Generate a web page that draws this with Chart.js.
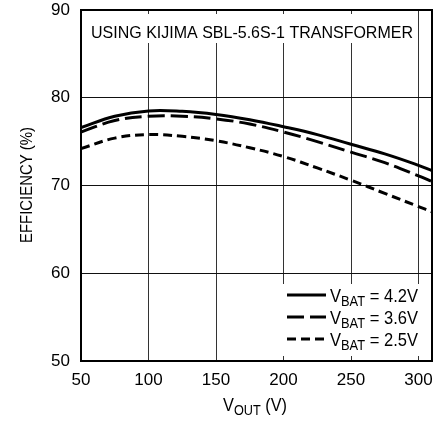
<!DOCTYPE html>
<html>
<head>
<meta charset="utf-8">
<script src="https://cdn.jsdelivr.net/npm/chart.js@4.4.1/dist/chart.umd.min.js"></script>
<style>
html,body{margin:0;padding:0;background:#fff;}
#wrap{width:447px;height:421px;position:relative;}
</style>
</head>
<body>
<div id="wrap"><canvas id="c" width="447" height="421"></canvas></div>
<script>
const FONT = '"Liberation Sans", Arial, sans-serif';

const vout = [50, 75, 100, 125, 150, 175, 200, 225, 250, 275, 300, 310];
const eff42 = [76.6, 77.9, 78.5, 78.45, 78.1, 77.5, 76.7, 75.8, 74.7, 73.6, 72.3, 71.7];
const eff36 = [76.1, 77.4, 77.9, 77.9, 77.6, 77.0, 76.1, 75.0, 73.8, 72.6, 71.1, 70.45];
const eff25 = [74.2, 75.4, 75.8, 75.6, 75.1, 74.3, 73.3, 72.0, 70.6, 69.1, 67.6, 67.0];

const xTicks = [50, 100, 150, 200, 250, 300];
const yTicks = [50, 60, 70, 80, 90];
const titleText = 'USING KIJIMA SBL-5.6S-1 TRANSFORMER';
const legendLabels = [
  {main: 'V', sub: 'BAT', rest: ' = 4.2V'},
  {main: 'V', sub: 'BAT', rest: ' = 3.6V'},
  {main: 'V', sub: 'BAT', rest: ' = 2.5V'}
];
const dashes = [[], [17, 6], [9, 5]];

function pts(ys) { return vout.map((x, i) => ({x: x, y: ys[i]})); }

// draws main+sub+rest starting at x (or centred), horizontally scaled to targetW
function drawSubText(ctx, x, y, parts, size, subSize, align, targetW) {
  ctx.font = size + 'px ' + FONT;
  const w1 = ctx.measureText(parts[0]).width;
  const w3 = ctx.measureText(parts[2]).width;
  ctx.font = subSize + 'px ' + FONT;
  const w2 = ctx.measureText(parts[1]).width;
  const total = w1 + w2 + w3;
  const k = targetW ? targetW / total : 1;
  let sx = x;
  if (align === 'center') sx = x - total * k / 2;
  ctx.save();
  ctx.translate(sx, y);
  ctx.scale(k, 1);
  ctx.textAlign = 'left';
  ctx.textBaseline = 'alphabetic';
  ctx.font = size + 'px ' + FONT;
  ctx.fillText(parts[0], 0, 0);
  ctx.font = subSize + 'px ' + FONT;
  ctx.fillText(parts[1], w1, 4);
  ctx.font = size + 'px ' + FONT;
  ctx.fillText(parts[2], w1 + w2, 0);
  ctx.restore();
}

function drawScaled(ctx, text, cx, y, size, targetW) {
  ctx.font = size + 'px ' + FONT;
  const w = ctx.measureText(text).width;
  const k = targetW / w;
  ctx.save();
  ctx.translate(cx, y);
  ctx.scale(k, 1);
  ctx.textAlign = 'center';
  ctx.textBaseline = 'alphabetic';
  ctx.fillText(text, 0, 0);
  ctx.restore();
}

const annot = {
  id: 'annot',
  beforeDatasetsDraw(chart) {
    const ctx = chart.ctx;
    const a = chart.chartArea;
    ctx.save();
    // title box
    ctx.fillStyle = '#fff';
    ctx.fillRect(a.left + 6, a.top + 4, 330, 29);
    ctx.fillStyle = '#000';
    drawScaled(ctx, titleText, 252, 38, 17, 322);
    // legend box
    ctx.fillStyle = '#fff';
    ctx.fillRect(280, 284, a.right - 280 - 1, 72);
    const rowsY = [295, 317, 339];
    for (let i = 0; i < 3; i++) {
      ctx.strokeStyle = '#000';
      ctx.lineWidth = 3;
      ctx.setLineDash(dashes[i]);
      ctx.beginPath();
      ctx.moveTo(287, rowsY[i]);
      ctx.lineTo(326, rowsY[i]);
      ctx.stroke();
      ctx.setLineDash([]);
      ctx.fillStyle = '#000';
      const l = legendLabels[i];
      drawSubText(ctx, 330, rowsY[i] + 7, [l.main, l.sub, l.rest], 18, 14, 'left', 88);
    }
    ctx.restore();
  },
  afterDraw(chart) {
    const ctx = chart.ctx;
    const a = chart.chartArea;
    ctx.save();
    ctx.strokeStyle = '#000';
    ctx.lineWidth = 2;
    ctx.strokeRect(a.left, a.top, a.right - a.left, a.bottom - a.top);
    ctx.fillStyle = '#000';
    drawSubText(ctx, 255, 411, ['V', 'OUT', ' (V)'], 18, 14, 'center', 64);
    ctx.translate(32, 185);
    ctx.rotate(-Math.PI / 2);
    drawScaled(ctx, 'EFFICIENCY (%)', 0, 0, 16, 116);
    ctx.restore();
  }
};

new Chart(document.getElementById('c'), {
  type: 'line',
  data: {
    datasets: [
      {label: 'VBAT = 4.2V', data: pts(eff42), borderColor: '#000', borderWidth: 3, borderDash: dashes[0], pointRadius: 0, tension: 0.4, fill: false},
      {label: 'VBAT = 3.6V', data: pts(eff36), borderColor: '#000', borderWidth: 3, borderDash: dashes[1], pointRadius: 0, tension: 0.4, fill: false},
      {label: 'VBAT = 2.5V', data: pts(eff25), borderColor: '#000', borderWidth: 3, borderDash: dashes[2], pointRadius: 0, tension: 0.4, fill: false}
    ]
  },
  options: {
    responsive: false,
    animation: false,
    devicePixelRatio: 1,
    layout: {padding: {left: 0, top: 10, right: 15, bottom: 0}},
    plugins: {legend: {display: false}, tooltip: {enabled: false}, title: {display: false}},
    scales: {
      x: {
        type: 'linear', min: 50, max: 310,
        afterBuildTicks(s) { s.ticks = xTicks.map(v => ({value: v})); },
        afterFit(s) { s.height = 60; s.paddingLeft = 0; s.paddingRight = 0; },
        grid: {color: '#333', lineWidth: 1, drawTicks: false},
        border: {display: false},
        ticks: {color: '#000', padding: 9, font: {family: FONT, size: 17}, maxRotation: 0}
      },
      y: {
        type: 'linear', min: 50, max: 90,
        afterBuildTicks(s) { s.ticks = yTicks.map(v => ({value: v})); },
        afterFit(s) { s.width = 81; s.paddingTop = 0; s.paddingBottom = 0; },
        grid: {color: '#111', lineWidth: 1, drawTicks: false},
        border: {display: false},
        ticks: {color: '#000', padding: 11, font: {family: FONT, size: 17}}
      }
    }
  },
  plugins: [annot]
});
</script>
</body>
</html>
